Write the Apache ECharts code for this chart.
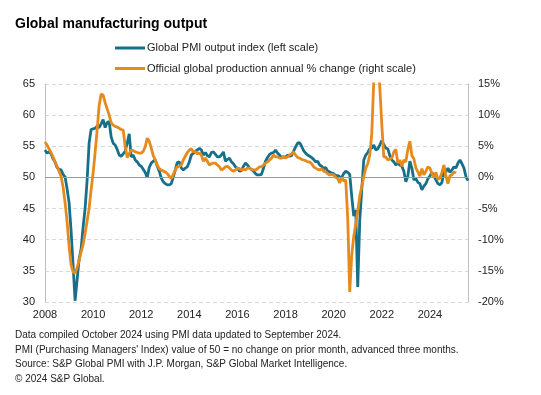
<!DOCTYPE html>
<html>
<head>
<meta charset="utf-8">
<script src="https://cdn.jsdelivr.net/npm/echarts@6/dist/echarts.min.js"></script>
<style>
html,body{margin:0;padding:0;background:#fff;}
#c{width:541px;height:395px;}
</style>
</head>
<body>
<div id="c"></div>
<script>
// Monthly categories start Jan 2008
var startYear = 2008;
var monthCount = 212;
var yearLabels = ['2008','2010','2012','2014','2016','2018','2020','2022','2024'];

// Global PMI output index (left scale), monthly
var pmiOutput = [
  54.4, 53.9, 54.1, 53.8, 53.0, 52.5, 51.6, 51.3, 51.2, 50.5, 50.1, 48.2,
  46.0, 41.5, 36.0, 30.2, 33.5, 36.8, 38.5, 42.0, 45.0, 49.5, 55.5, 57.7,
  57.8, 57.9, 58.2, 58.0, 58.6, 59.3, 58.0, 58.8, 59.0, 56.5, 55.5, 55.2,
  54.5, 53.6, 53.4, 53.8, 54.2, 55.5, 57.0, 53.3, 53.6, 52.8, 52.5, 52.0,
  51.8, 51.3, 50.8, 50.0, 51.6, 52.3, 52.6, 52.8, 51.8, 51.0, 49.9, 49.3,
  49.0, 48.8, 48.8, 49.0, 50.1, 51.2, 52.4, 52.5, 51.5, 51.2, 51.5, 51.7,
  52.5, 53.6, 53.9, 54.2, 54.4, 54.7, 54.4, 53.6, 54.0, 53.5, 53.3, 54.0,
  54.1, 53.7, 53.3, 53.3, 53.6, 54.1, 52.6, 52.9, 53.1, 52.5, 52.2, 51.7,
  51.5, 51.0, 51.1, 51.8, 52.3, 52.0, 51.5, 51.3, 51.0, 50.6, 50.4, 50.4,
  50.5, 51.5, 52.6, 53.2, 53.7, 53.9, 54.0, 54.4, 53.9, 53.6, 53.2, 53.3,
  53.2, 53.6, 53.4, 53.5, 54.2, 54.9, 55.5, 55.6, 55.0, 54.3, 53.9, 53.6,
  53.4, 53.2, 52.9, 52.5, 52.6, 52.0, 51.8, 51.4, 51.6, 51.0, 50.9, 50.7,
  50.6, 50.3, 50.3, 50.1, 50.0, 50.6, 51.0, 50.8, 50.5, 47.0, 43.8, 44.8,
  32.4, 43.0, 48.0, 52.8, 53.6, 54.0, 54.6, 54.7, 55.2, 54.4, 54.6, 55.2,
  55.9, 55.3, 54.7, 54.6, 53.5, 52.8, 52.5, 52.0, 52.3, 52.0, 51.8, 51.0,
  49.3, 50.2, 52.6, 51.5, 49.6, 49.8, 49.2, 49.0, 48.0, 48.6, 49.0, 49.8,
  50.2, 50.8, 50.2, 49.6, 49.0, 48.8, 49.2, 50.9, 50.9, 51.5, 50.8, 51.2,
  51.7, 51.5, 52.3, 52.8, 52.2, 51.5, 50.1, 49.5
];

// Official global production annual % change (right scale), monthly
var productionChange = [
  5.7, 5.2, 4.6, 4.0, 3.3, 2.5, 1.8, 1.0, 0.2, -1.5, -4.0, -7.0,
  -11.0, -14.0, -15.2, -15.4, -14.5, -13.3, -12.0, -10.8, -9.0, -7.0, -5.0, -2.0,
  0.7, 4.0, 7.6, 11.5, 13.4, 13.2, 12.0, 11.0, 10.0, 8.8, 8.4, 8.2,
  8.1, 7.9, 7.7, 7.6, 5.0, 3.2, 3.8, 4.4, 4.3, 4.1, 4.0, 3.9,
  3.9, 4.2, 4.9, 6.3, 5.8, 4.7, 3.5, 2.8, 2.0, 1.4, 1.2, 1.0,
  0.9, 0.6, 0.2, -0.2, 0.5, 1.2, 1.7, 1.8, 2.0, 2.8, 3.4, 4.0,
  4.4, 4.6, 4.1, 4.2, 3.8, 3.9, 3.6, 2.6, 3.1, 2.6, 2.0, 2.2,
  2.3, 2.3, 2.0, 1.7, 1.2, 1.4, 1.7, 1.8, 1.5, 1.2, 1.0, 1.2,
  1.5, 1.4, 1.2, 1.3, 1.2, 1.5, 1.5, 1.3, 1.2, 1.2, 1.4, 1.7,
  1.7, 2.0, 2.3, 2.5, 2.8, 3.1, 3.6, 3.3, 3.3, 3.1, 3.1, 3.4,
  3.1, 3.3, 3.6, 3.8, 4.1, 3.6, 3.2, 3.1, 2.9, 2.8, 2.7, 2.5,
  2.5, 2.2, 1.7, 1.5, 1.3, 1.2, 1.4, 1.0, 0.9, 0.6, 0.4, 0.5,
  0.4, 0.0, -0.2, -0.9, 0.0, -0.6, -0.4, -6.5, -18.4, -12.5, -9.5, -7.5,
  -5.5, -3.0, -1.5, 0.1, 1.5, 2.2, 3.6, 7.0, 15.5, 25.0, 22.0, 14.5,
  8.5, 3.3, 3.3, 2.8, 3.0, 3.1, 4.1, 4.5, 2.3, 2.8, 1.8, 2.8,
  2.5, 4.5, 5.8, 3.5, 3.0, 1.5, 0.9, 0.2, 1.4, 0.4, 1.0, 1.7,
  1.5, 0.6, 0.1, 0.8, -0.3, -0.1, 0.8, 2.0, 0.2, -1.0, 0.3, 0.4,
  0.9, 0.7
];

var footnotes = [
  'Data compiled October 2024 using PMI data updated to September 2024.',
  "PMI (Purchasing Managers' Index) value of 50 = no change on prior month, advanced three months.",
  'Source: S&P Global PMI with J.P. Morgan, S&P Global Market Intelligence.',
  '\u00a9 2024 S&P Global.'
];

var months = [];
for (var i = 0; i < monthCount; i++) {
  var y = startYear + Math.floor(i / 12);
  var m = (i % 12) + 1;
  months.push(y + '-' + (m < 10 ? '0' + m : m));
}

var FONT = '"Liberation Sans", Arial, sans-serif';
var TEAL = '#17708a';
var ORANGE = '#e68a1c';

var chart = echarts.init(document.getElementById('c'), null, {renderer: 'canvas'});
chart.setOption({
  animation: false,
  backgroundColor: '#ffffff',
  textStyle: {fontFamily: FONT},
  title: {
    text: 'Global manufacturing output',
    left: 15, top: 17, padding: 0,
    textStyle: {fontFamily: FONT, fontSize: 14, fontWeight: 'bold', color: '#000'}
  },
  legend: {
    orient: 'vertical',
    left: 115, top: 41, padding: 0,
    itemWidth: 30, itemHeight: 3,
    itemGap: 6.5,
    icon: 'rect',
    data: ['Global PMI output index (left scale)', 'Official global production annual % change (right scale)'],
    textStyle: {fontFamily: FONT, fontSize: 11, color: '#222', lineHeight: 14, padding: [0, 0, 0, -3]}
  },
  grid: {left: 45, right: 73, top: 84, bottom: 93, containLabel: false},
  xAxis: {
    type: 'category',
    data: months,
    boundaryGap: false,
    axisLine: {show: false},
    axisTick: {show: false},
    axisLabel: {
      interval: 23,
      margin: 7,
      fontFamily: FONT, fontSize: 11, color: '#222',
      formatter: function (v) {
        var yr = v.slice(0, 4);
        return yearLabels.indexOf(yr) >= 0 ? yr : '';
      }
    },
    splitLine: {show: false}
  },
  yAxis: [
    {
      type: 'value', min: 30, max: 65, interval: 5, position: 'left',
      axisLine: {show: true, lineStyle: {color: '#bfbfbf', width: 1}},
      axisTick: {show: false},
      axisLabel: {fontFamily: FONT, fontSize: 11, color: '#222', margin: 10},
      splitLine: {show: true, lineStyle: {color: '#d9d9d9', type: [4, 3], width: 1}}
    },
    {
      type: 'value', min: -20, max: 15, interval: 5, position: 'right',
      axisLine: {show: true, lineStyle: {color: '#bfbfbf', width: 1}},
      axisTick: {show: false},
      axisLabel: {fontFamily: FONT, fontSize: 11, color: '#222', margin: 10, formatter: '{value}%'},
      splitLine: {show: false}
    }
  ],
  series: [
    {
      name: 'baseline', type: 'line', yAxisIndex: 0, data: [], z: 1, silent: true,
      markLine: {
        silent: true, symbol: 'none', label: {show: false},
        lineStyle: {color: '#9a9a9a', type: 'solid', width: 1},
        data: [{yAxis: 50}]
      }
    },
    {
      name: 'Global PMI output index (left scale)',
      type: 'line', yAxisIndex: 0, data: pmiOutput,
      showSymbol: false, symbol: 'none', z: 3,
      lineStyle: {color: TEAL, width: 2.8}, itemStyle: {color: TEAL}
    },
    {
      name: 'Official global production annual % change (right scale)',
      type: 'line', yAxisIndex: 1, data: productionChange,
      showSymbol: false, symbol: 'none', z: 4, clip: true,
      lineStyle: {color: ORANGE, width: 2.8}, itemStyle: {color: ORANGE}
    }
  ],
  graphic: [{
    type: 'text', left: 15, top: 328,
    style: {
      text: footnotes.join('\n'),
      font: '10px ' + FONT,
      lineHeight: 14.5,
      fill: '#222'
    }
  }]
});
</script>
</body>
</html>
